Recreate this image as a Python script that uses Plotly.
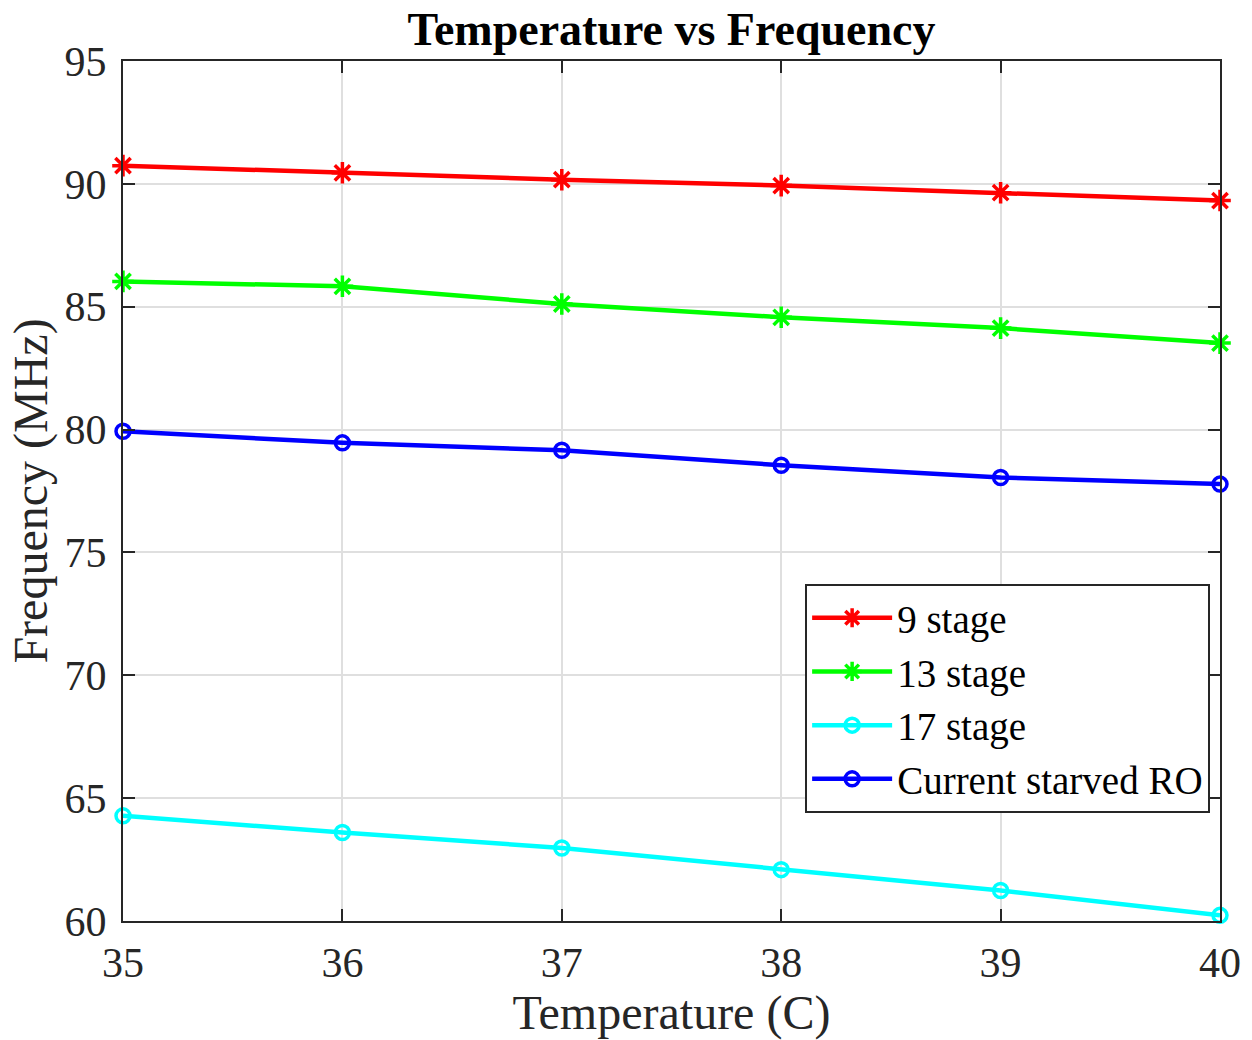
import plotly.graph_objects as go

temperature = [35, 36, 37, 38, 39, 40]
stage9 = [90.74, 90.45, 90.17, 89.93, 89.64, 89.32]
stage13 = [86.03, 85.83, 85.11, 84.57, 84.13, 83.52]
stage17 = [64.28, 63.60, 62.97, 62.09, 61.24, 60.23]
current_starved = [79.93, 79.46, 79.16, 78.55, 78.05, 77.78]

series = [
    ("9 stage", stage9, "#ff0000", "asterisk-open", 18),
    ("13 stage", stage13, "#00ff00", "asterisk-open", 18),
    ("17 stage", stage17, "#00ffff", "circle-open", 14),
    ("Current starved RO", current_starved, "#0000ff", "circle-open", 14),
]

font_family = "Liberation Serif, Times New Roman, serif"

fig = go.Figure()
for name, vals, color, sym, size in series:
    fig.add_trace(go.Scatter(
        x=temperature, y=vals, name=name, mode="lines+markers",
        line=dict(color=color, width=4.5),
        marker=dict(symbol=sym, size=size, color=color, line=dict(color=color, width=3.5)),
        cliponaxis=False,
    ))

axis_common = dict(
    showline=True, linecolor="#262626", linewidth=2, mirror="ticks",
    ticks="inside", ticklen=12, tickcolor="#262626", tickwidth=2,
    showgrid=True, gridcolor="#dfdfdf", gridwidth=1.5, zeroline=False,
    tickfont=dict(family=font_family, size=42, color="#262626"),
)

fig.update_layout(
    width=1252, height=1040,
    margin=dict(l=123, r=32, t=61, b=119),
    paper_bgcolor="white", plot_bgcolor="white",
    title=dict(text="<b>Temperature vs Frequency</b>", x=671.5 / 1252, xanchor="center",
               y=1 - 29 / 1040, yanchor="middle",
               font=dict(family=font_family, size=46, color="black")),
    xaxis=dict(range=[35, 40], tickvals=temperature, **axis_common,
               ticklabelstandoff=4,
               title=dict(text="Temperature (C)", font=dict(family=font_family, size=48, color="#262626"), standoff=6)),
    yaxis=dict(range=[60, 95], tickvals=[60, 65, 70, 75, 80, 85, 90, 95], **axis_common,
               ticklabelstandoff=6,
               title=dict(text="Frequency (MHz)", font=dict(family=font_family, size=48, color="#262626"), standoff=2)),
    legend=dict(x=0.991, xanchor="right", y=0.392, yanchor="top",
                bgcolor="white", bordercolor="#262626", borderwidth=2,
                font=dict(family=font_family, size=39, color="black"),
                tracegroupgap=0, itemwidth=80),
    showlegend=True,
)

fig.write_html("out.html", config={"displayModeBar": False},
               post_script="document.body.style.margin='0';")
